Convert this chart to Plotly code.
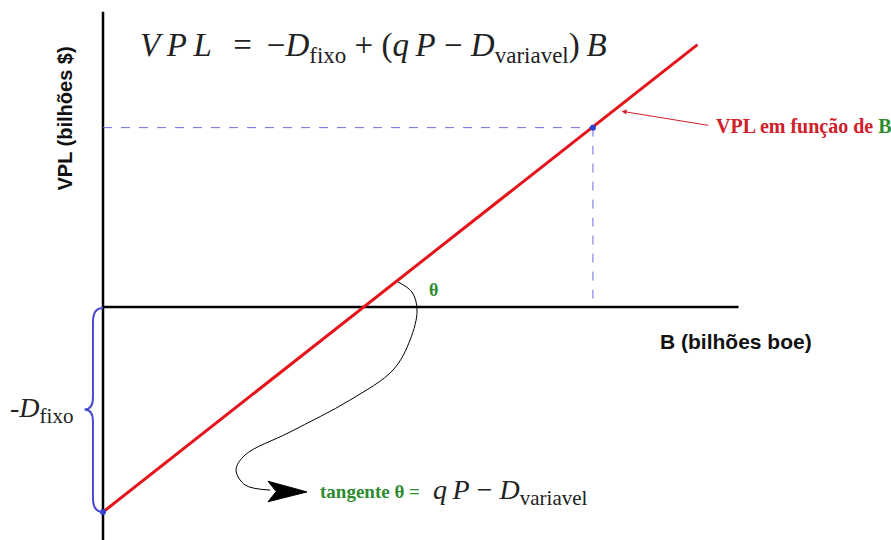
import plotly.graph_objects as go

# ---- data (units: B in bilhões boe, VPL in bilhões $) ----
D_fixo = 10.0
b_line = [0.0, 29.0]            # B values at ends of red line
vpl_line = [-10.0, 12.8]        # VPL at those B values
b_star = [23.9]                 # highlighted point
vpl_star = [8.75]
b_axis = [0.0, 31.0]            # horizontal axis extent
vpl_axis = [14.4, -11.4]        # vertical axis extent
# curved pointer from angle theta to the "tangente" label
curve_b = [14.39, 15.07, 15.32, 14.98, 14.15, 12.05, 9.12, 6.93, 6.49, 6.93, 8.15]
curve_vpl = [1.22, 0.73, -0.15, -1.61, -3.07, -4.54, -6.10, -7.22, -7.95, -8.68, -8.93]

fig = go.Figure()

# axes
fig.add_trace(go.Scatter(x=b_axis, y=[0, 0], mode="lines",
                         line=dict(color="black", width=2.5), hoverinfo="skip"))
fig.add_trace(go.Scatter(x=[0, 0], y=vpl_axis, mode="lines",
                         line=dict(color="black", width=2.5), hoverinfo="skip"))
# dashed guides
fig.add_trace(go.Scatter(x=[0, b_star[0]], y=[vpl_star[0], vpl_star[0]], mode="lines",
                         line=dict(color="#6b6be0", width=1, dash="dash"), hoverinfo="skip"))
fig.add_trace(go.Scatter(x=[b_star[0], b_star[0]], y=[vpl_star[0], 0], mode="lines",
                         line=dict(color="#6b6be0", width=1, dash="dash"), hoverinfo="skip"))
# red VPL line
fig.add_trace(go.Scatter(x=b_line, y=vpl_line, mode="lines",
                         line=dict(color="#e5141b", width=3)))
# curve pointer
fig.add_trace(go.Scatter(x=curve_b, y=curve_vpl, mode="lines",
                         line=dict(color="black", width=1, shape="spline"), hoverinfo="skip"))
# blue points
fig.add_trace(go.Scatter(x=[0] + b_star, y=[-D_fixo] + vpl_star, mode="markers",
                         marker=dict(color="#2b3fd0", size=6)))

shapes = []
# curly brace for -D_fixo
d = D_fixo
shapes.append(dict(
    type="path", xref="x", yref="y",
    path=(f"M 0,-0.05 Q -0.49,-0.05 -0.49,-0.73 L -0.49,{-d/2+0.58:.2f} "
          f"Q -0.49,{-d/2:.2f} -0.9,{-d/2:.2f} Q -0.49,{-d/2:.2f} -0.49,{-d/2-0.58:.2f} "
          f"L -0.49,{-d+0.68:.2f} Q -0.49,{-d:.2f} 0,{-d:.2f}"),
    line=dict(color="#4a4ad0", width=2)))
# arrowhead at end of curved pointer
shapes.append(dict(
    type="path", xref="x", yref="y",
    path="M 8.05,-8.5 L 9.95,-9.02 L 8.05,-9.5 L 8.45,-9.0 Z",
    fillcolor="black", line=dict(color="black", width=1)))
fig.update_layout(shapes=shapes)

serif = "Liberation Serif"
ts = "\u2009"
sub = "<sub><span style='font-size:23px'>{}</span></sub>"
sub2 = "<sub><span style='font-size:21px'>{}</span></sub>"
ann = []
ann.append(dict(x=1.7, y=12.65, xanchor="left", yanchor="middle", showarrow=False,
                text=(f"<i>V{ts}P{ts}L</i>{ts}{ts} = {ts}−<i>D</i>" + sub.format("fixo") +
                      f" + (<i>q{ts}P</i> − <i>D</i>" + sub.format("variavel") + f"){ts}<i>B</i>"),
                font=dict(family=serif, size=33, color="#222")))
ann.append(dict(x=-1.85, y=9.2, textangle=-90, showarrow=False,
                text="<b>VPL (bilhões $)</b>",
                font=dict(family="Liberation Sans", size=20, color="#111")))
ann.append(dict(x=30.9, y=-1.7, showarrow=False,
                text="<b>B (bilhões boe)</b>",
                font=dict(family="Liberation Sans", size=21, color="#111")))
ann.append(dict(x=16.1, y=0.85, showarrow=False, text="<b>θ</b>",
                font=dict(family=serif, size=18, color="#2e8b2e")))
ann.append(dict(x=29.8, y=8.8, xanchor="left", showarrow=False,
                text="<b>VPL em função de <span style='color:#2e8b2e'>B</span></b>",
                font=dict(family=serif, size=20, color="#d0202a")))
ann.append(dict(x=25.3, y=9.55, ax=29.6, ay=8.85, axref="x", ayref="y", xref="x", yref="y",
                text="", showarrow=True, arrowhead=2, arrowsize=1, arrowwidth=1,
                arrowcolor="#d0202a"))
ann.append(dict(x=10.5, y=-9.02, xanchor="left", showarrow=False,
                text="<b>tangente θ =</b>",
                font=dict(family=serif, size=19, color="#2e8b2e")))
ann.append(dict(x=16.0, y=-9.02, xanchor="left", showarrow=False,
                text=f"<i>q{ts}P</i> − <i>D</i>" + sub2.format("variavel"),
                font=dict(family=serif, size=28, color="#222")))
ann.append(dict(x=-1.35, y=-5.0, xanchor="right", showarrow=False,
                text="-<i>D</i>" + sub2.format("fixo"),
                font=dict(family=serif, size=28, color="#222")))
fig.update_layout(annotations=ann)

fig.update_layout(
    width=891, height=540, margin=dict(l=0, r=0, t=0, b=0),
    paper_bgcolor="white", plot_bgcolor="white", showlegend=False,
    xaxis=dict(range=[-103/20.5, 788/20.5], visible=False, fixedrange=True),
    yaxis=dict(range=[-233/20.5, 307/20.5], visible=False, fixedrange=True),
)
fig.write_html("out.html", config={"displayModeBar": False},
               post_script="document.body.style.margin='0';")
